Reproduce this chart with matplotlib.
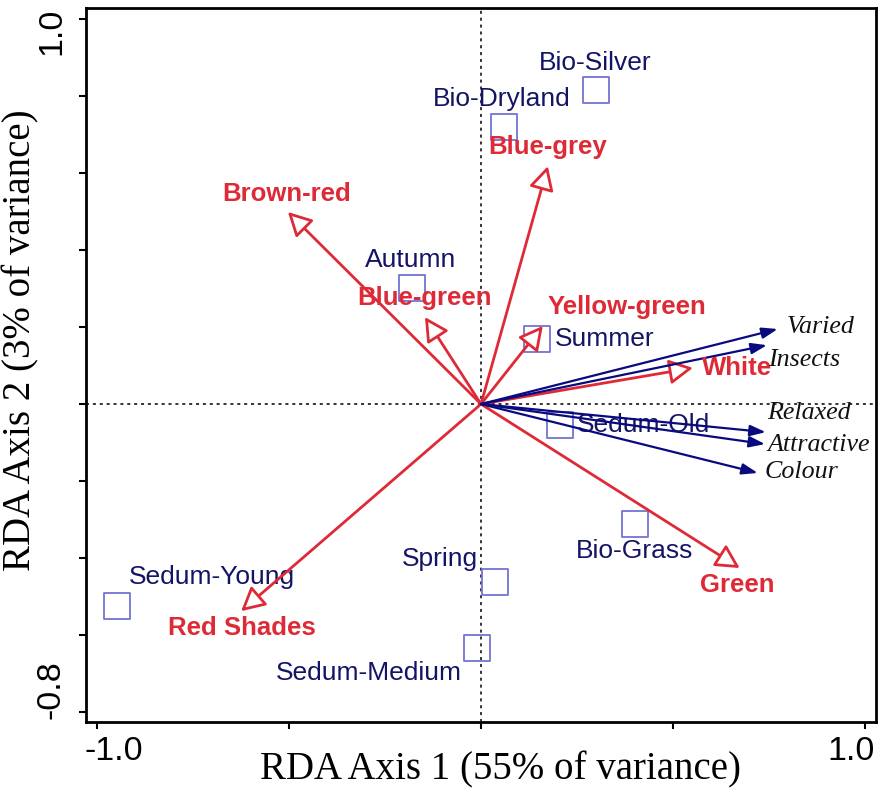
import matplotlib
matplotlib.use("Agg")
import matplotlib.pyplot as plt

# ---------------- data ----------------
site_names = ["Bio-Silver", "Bio-Dryland", "Autumn", "Summer", "Sedum-Old",
              "Bio-Grass", "Spring", "Sedum-Medium", "Sedum-Young"]
site_x = [0.299, 0.060, -0.180, 0.146, 0.206, 0.401, 0.036, -0.010, -0.948]
site_y = [0.816, 0.719, 0.301, 0.169, -0.055, -0.312, -0.462, -0.634, -0.525]

colour_names = ["Brown-red", "Blue-green", "Blue-grey", "Yellow-green",
                "White", "Green", "Red Shades"]
colour_x = [-0.503, -0.146, 0.174, 0.161, 0.552, 0.674, -0.625]
colour_y = [0.499, 0.226, 0.618, 0.203, 0.094, -0.426, -0.538]

resp_names = ["Varied", "Insects", "Relaxed", "Attractive", "Colour"]
resp_x = [0.773, 0.745, 0.742, 0.740, 0.721]
resp_y = [0.195, 0.153, -0.073, -0.104, -0.179]

x_ticks = [-1.0, -0.5, 0.0, 0.5, 1.0]
x_label_ticks = [-1.0, 1.0]
x_ticklabels = ["-1.0", "1.0"]
y_ticks = [-0.8, -0.6, -0.4, -0.2, 0.0, 0.2, 0.4, 0.6, 0.8, 1.0]
y_label_ticks = [1.0, -0.8]
y_ticklabels = ["1.0", "-0.8"]

# ---------------- layout (label offsets in pixels: dx, dy(down), ha) ----------------
site_off = [(-1, -27, "center"), (-2, -28, "center"), (-1, -28, "center"),
            (18, 0, "left"), (17, 0, "left"), (0, 27, "center"),
            (-55, -23, "center"), (-108, 25, "center"), (95, -29, "center")]
colour_off = [(-1, -18, "center"), (0, -19, "center"), (0, -19, "center"),
              (84, -19, "center"), (9, 0, "left"), (-2, 17, "center"),
              (1, 17, "center")]
resp_off = [(9, -2, "left"), (1, 15, "left"), (1, -19, "left"),
            (2, 1, "left"), (7, -1, "left")]
xtick_off = [(17, 30), (-14, 30)]
ytick_off = [(-34, 12), (-35, -22)]

NAVY_TXT = "#141466"
NAVY = "#0a0a80"
RED = "#de2a36"
SQ = "#7373d2"

fig = plt.figure(figsize=(8.86, 7.98), dpi=100)
ax = fig.add_axes([86/886, 1-722/798, (876-86)/886, (722-8)/798])
ax.set_xlim(-1.029, 1.029)
ax.set_ylim(-0.826, 1.029)

PX = 72/100.0  # points per pixel

ax.axhline(0, color="black", lw=1.1, ls=(0, (2, 2.5)), zorder=1)
ax.axvline(0, color="black", lw=1.1, ls=(0, (2, 2.5)), zorder=1)

# sites
ax.scatter(site_x, site_y, marker="s", s=(26*PX)**2, facecolors="none",
           edgecolors=SQ, linewidths=1.3, zorder=3)
for n, x, y, (dx, dy, ha) in zip(site_names, site_x, site_y, site_off):
    ax.annotate(n, (x, y), xytext=(dx*PX, -dy*PX), textcoords="offset points",
                ha=ha, va="center", color=NAVY_TXT, fontsize=19,
                family="Liberation Sans", zorder=4)

# red colour arrows
for n, x, y, (dx, dy, ha) in zip(colour_names, colour_x, colour_y, colour_off):
    ax.annotate("", xy=(x, y), xytext=(0, 0),
                arrowprops=dict(arrowstyle="-|>,head_length=0.72,head_width=0.38",
                                mutation_scale=20, lw=2.0, ec=RED, fc="white",
                                shrinkA=0, shrinkB=0), zorder=5)
    ax.annotate(n, (x, y), xytext=(dx*PX, -dy*PX), textcoords="offset points",
                ha=ha, va="center", color=RED, fontsize=18.5, fontweight="bold",
                family="Liberation Sans", zorder=6)

# navy response arrows
for n, x, y, (dx, dy, ha) in zip(resp_names, resp_x, resp_y, resp_off):
    ax.annotate("", xy=(x, y), xytext=(0, 0),
                arrowprops=dict(arrowstyle="-|>,head_length=0.95,head_width=0.33",
                                mutation_scale=10, lw=1.6, ec=NAVY, fc=NAVY,
                                shrinkA=0, shrinkB=0), zorder=5)
    ax.annotate(n, (x, y), xytext=(dx*PX, -dy*PX), textcoords="offset points",
                ha=ha, va="center", color="#111111", fontsize=18.7,
                family="Liberation Serif", style="italic", zorder=6)

# ticks
ax.set_xticks(x_ticks)
ax.set_yticks(y_ticks)
ax.set_xticklabels([])
ax.set_yticklabels([])
ax.tick_params(direction="out", length=5, width=1.5)
for sp in ax.spines.values():
    sp.set_linewidth(2)

for t, lab, (dx, dy) in zip(x_label_ticks, x_ticklabels, xtick_off):
    ax.annotate(lab, (t, 0), xycoords=ax.get_xaxis_transform(),
                xytext=(dx*PX, -dy*PX), textcoords="offset points",
                ha="center", va="center", fontsize=24.5,
                family="Liberation Sans", annotation_clip=False)
for t, lab, (dx, dy) in zip(y_label_ticks, y_ticklabels, ytick_off):
    ax.annotate(lab, (0, t), xycoords=ax.get_yaxis_transform(),
                xytext=(dx*PX, -dy*PX), textcoords="offset points",
                ha="center", va="center", rotation=90, fontsize=24.5,
                family="Liberation Sans", annotation_clip=False)

ax.set_xlabel("RDA Axis 1 (55% of variance)", family="Liberation Serif",
              fontsize=28, va="center")
ax.xaxis.set_label_coords((501-86)/790, -(770-722)/714)
ax.set_ylabel("RDA Axis 2 (3% of variance)", family="Liberation Serif",
              fontsize=28, va="center")
ax.yaxis.set_label_coords((21-86)/790, (722-340)/714)

fig.savefig("out.png", dpi=100)
